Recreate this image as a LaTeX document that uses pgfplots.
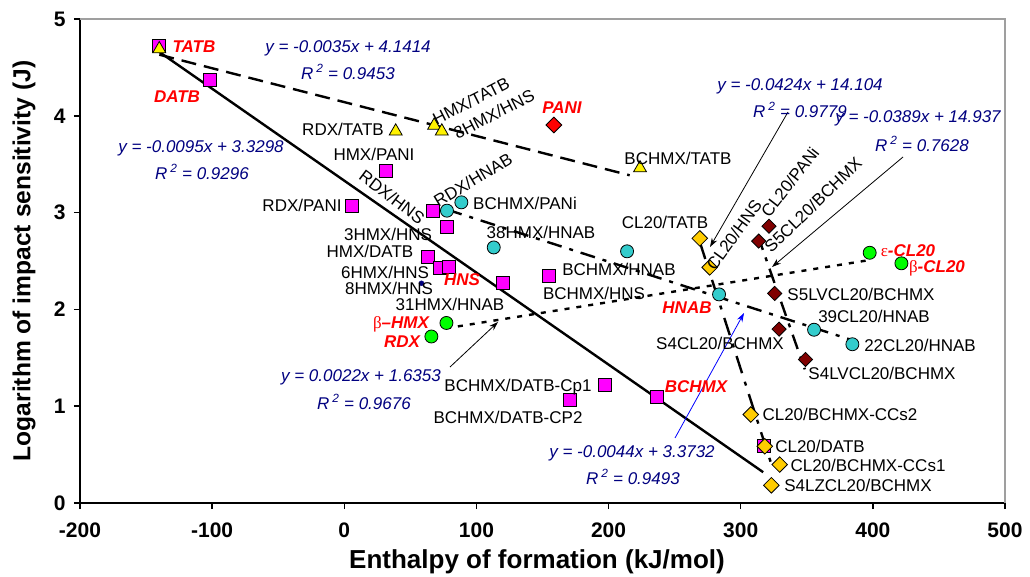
\documentclass[border=0pt]{standalone}
\usepackage{fontspec}
\setmainfont{Liberation Sans}
\newfontfamily\grk{Liberation Serif}
\usepackage{pgfplots}
\pgfplotsset{compat=1.18}
\usetikzlibrary{arrows.meta}
\definecolor{navy}{RGB}{0,0,128}
\definecolor{tealc}{RGB}{51,204,204}
\definecolor{goldc}{RGB}{255,204,0}
\definecolor{maroonc}{RGB}{128,0,0}
\definecolor{magc}{RGB}{255,0,255}
% pixel coordinates of the reference (origin top-left) -> scope with origin at axis lower-left corner (80,503)
\newcommand\Lb[4][]{\node[lbl,#1] at ({#2-80},{503-#3}) {#4};}
\newcommand\Lr[3]{\node[rl] at ({#1-80},{503-#2}) {#3};}
\newcommand\Le[3]{\node[eq] at ({#1-80},{503-#2}) {#3};}
\newcommand\Rsq[1]{R\,\textsuperscript{2} = #1}
\newcommand\Ar[5][black]{\draw[-{Stealth[length=9pt,width=6pt]}, line width=0.8pt, #1] ({#2-80},{503-#3}) -- ({#4-80},{503-#5});}
\begin{document}
\begin{tikzpicture}[
 lbl/.style={font=\fontsize{17}{20}\selectfont, inner sep=0pt},
 rl/.style={font=\bfseries\itshape\fontsize{17}{20}\selectfont, text=red, inner sep=0pt},
 eq/.style={font=\itshape\fontsize{17}{20}\selectfont, text=navy, inner sep=0pt}]
\begin{axis}[scale only axis,
  width=925pt, height=484pt,
  xmin=-200, xmax=500, ymin=0, ymax=5,
  xtick={-200,-100,0,100,200,300,400,500},
  xticklabels={-200,-100,0,100,200,300,400,500},
  ytick={0,1,2,3,4,5}, yticklabels={0,1,2,3,4,5},
  axis x line*=bottom, axis y line*=left,
  axis line style={black, line width=2.4pt},
  tick align=outside, major tick length=6pt,
  tick style={black, line width=1.5pt},
  xticklabel style={font=\bfseries\fontsize{21}{24}\selectfont, yshift=-10pt},
  yticklabel style={font=\bfseries\fontsize{21}{24}\selectfont, xshift=-5pt},
  clip=false]
\coordinate (O) at (rel axis cs:0,0);
% frame top/right
\draw[gray!75, line width=1.4pt] (rel axis cs:0,1) -- (rel axis cs:1,1) -- (rel axis cs:1,0);
% trend lines
\addplot[black, line width=2.4pt, no marks] coordinates {(-140,4.6598) (317,0.3183)};
\addplot[black, line width=2.4pt, no marks, dash pattern=on 15pt off 8pt] coordinates {(-140,4.6314) (216,3.3854)};
\addplot[black, line width=2.4pt, no marks, dash pattern=on 15pt off 8pt on 4pt off 8pt] coordinates {(78,3.0300) (385,1.6792)};
\addplot[black, line width=2.4pt, no marks, dash pattern=on 5pt off 7pt] coordinates {(77,1.8047) (398,2.5109)};
\addplot[black, line width=2.4pt, no marks, dash pattern=on 15pt off 8pt on 4pt off 8pt] coordinates {(313,2.7613) (348.5,1.3806)};
\addplot[black, line width=2.4pt, no marks, dash pattern=on 18pt off 9pt on 4pt off 9pt] coordinates {(269,2.6984) (323.5,0.3876)};
% markers
\addplot[only marks, mark=square*, mark size=6.5pt, mark options={fill=magc, draw=black, line width=0.8pt}] coordinates {
(-140,4.72) (-101.7,4.37) (31.4,3.43) (5.7,3.07) (67.1,3.02) (77.3,2.85) (62.9,2.54) (72.7,2.43) (79.2,2.44)
(119.7,2.275) (154.7,2.35) (197.1,1.224) (171.1,1.069) (236.2,1.096) (317.6,0.586)};
\addplot[only marks, mark=triangle*, mark size=7.5pt, mark options={fill=yellow, draw=black, line width=0.8pt}] coordinates {
(-140,4.69) (38.9,3.84) (68,3.90) (73.8,3.84) (223.8,3.46)};
\addplot[only marks, mark=square*, mark size=5.6pt, mark options={fill=red, draw=black, line width=0.8pt, rotate=45}] coordinates {(158.6,3.905)};
\addplot[only marks, mark=*, mark size=6.5pt, mark options={fill=tealc, draw=black, line width=0.8pt}] coordinates {
(77.7,3.02) (88.6,3.106) (113.1,2.64) (214,2.60) (283.6,2.155) (355.5,1.79) (384.5,1.64)};
\addplot[only marks, mark=*, mark size=6.5pt, mark options={fill=green, draw=black, line width=0.8pt}] coordinates {
(77.3,1.86) (65.9,1.72) (397.6,2.585) (421.6,2.476)};
\addplot[only marks, mark=square*, mark size=5pt, mark options={fill=maroonc, draw=black, line width=0.8pt, rotate=45}] coordinates {
(321.4,2.86) (313.6,2.706) (325.7,2.165) (329,1.796) (349,1.483)};
\addplot[only marks, mark=square*, mark size=5.5pt, mark options={fill=goldc, draw=black, line width=0.8pt, rotate=45}] coordinates {
(269,2.734) (276.5,2.434) (307.6,0.914) (318.2,0.586) (329.5,0.397) (323.2,0.183)};
\addplot[only marks, mark=*, mark size=2.5pt, mark options={fill=navy, draw=navy}] coordinates {(58.4,2.27)};
\end{axis}
\begin{scope}[shift={(O)}, x=1pt, y=1pt]
% axis labels
\node[font=\bfseries\fontsize{26}{30}\selectfont, inner sep=0pt] at ({537-80},{503-562}) {Enthalpy of formation (kJ/mol)};
\node[font=\bfseries\fontsize{24.6}{28}\selectfont, inner sep=0pt, rotate=90] at ({24-80},{503-261}) {Logarithm of impact sensitivity (J)};
% arrows
\Ar{788}{112}{710}{247}
\Ar{903}{157}{772}{267}
\Ar{450}{367}{498}{322}
\Ar[blue]{675}{438}{744}{313}
% black labels
\Lb{343}{129}{RDX/TATB}
\Lb{374}{154}{HMX/PANI}
\Lb[rotate=27]{471}{101}{HMX/TATB}
\Lb[rotate=27]{494}{114}{8HMX/HNS}
\Lb{678}{158}{BCHMX/TATB}
\Lb{302}{205}{RDX/PANI}
\Lb[rotate=-37]{392}{197}{RDX/HNS}
\Lb[rotate=31]{473}{180}{RDX/HNAB}
\Lb{525}{203}{BCHMX/PANi}
\Lb{388}{234}{3HMX/HNS}
\Lb{541}{232}{38HMX/HNAB}
\Lb{665}{222}{CL20/TATB}
\Lb{370}{251}{HMX/DATB}
\Lb{619}{269}{BCHMX/HNAB}
\Lb{385}{272}{6HMX/HNS}
\Lb{389}{288}{8HMX/HNS}
\Lb{594}{293}{BCHMX/HNS}
\Lb{450}{304}{31HMX/HNAB}
\Lb{720}{343}{S4CL20/BCHMX}
\Lb{861}{294}{S5LVCL20/BCHMX}
\Lb{874}{316}{39CL20/HNAB}
\Lb{920}{345}{22CL20/HNAB}
\Lb{882}{373}{S4LVCL20/BCHMX}
\Lb[rotate=54]{734}{235}{CL20/HNS}
\Lb[rotate=52]{790}{182}{CL20/PANi}
\Lb[rotate=44]{813}{205}{S5CL20/BCHMX}
\Lb{518}{387}{BCHMX/DATB-Cp1}
\Lb{508}{417}{BCHMX/DATB-CP2}
\Lb{840}{414}{CL20/BCHMX-CCs2}
\Lb{820}{446}{CL20/DATB}
\Lb{868}{465}{CL20/BCHMX-CCs1}
\Lb{858}{485}{S4LZCL20/BCHMX}
% red labels
\Lr{194}{47}{TATB}
\Lr{177}{97}{DATB}
\Lr{562}{108}{PANI}
\Lr{462}{280}{HNS}
\Lr{401}{324}{{\grk\mdseries\upshape β}–HMX}
\Lr{402}{342}{RDX}
\Lr{687}{308}{HNAB}
\Lr{696}{387}{BCHMX}
\Lr{908}{251}{{\grk\mdseries\upshape ε}-CL20}
\Lr{937}{268}{{\grk\mdseries\upshape β}-CL20}
% equations
\Le{348}{48}{y = -0.0035x + 4.1414}
\Le{348}{72}{\Rsq{0.9453}}
\Le{201}{148}{y = -0.0095x + 3.3298}
\Le{202}{172}{\Rsq{0.9296}}
\Le{800}{86}{y = -0.0424x + 14.104}
\Le{800}{110}{\Rsq{0.9779}}
\Le{918}{118}{y = -0.0389x + 14.937}
\Le{922}{144}{\Rsq{0.7628}}
\Le{361}{377}{y = 0.0022x + 1.6353}
\Le{364}{402}{\Rsq{0.9676}}
\Le{632}{453}{y = -0.0044x + 3.3732}
\Le{633}{477}{\Rsq{0.9493}}
% page frame = reference image extent
\pgfresetboundingbox
\path[use as bounding box] (-80,-73) rectangle (950,503);
\end{scope}
\end{tikzpicture}
\end{document}
